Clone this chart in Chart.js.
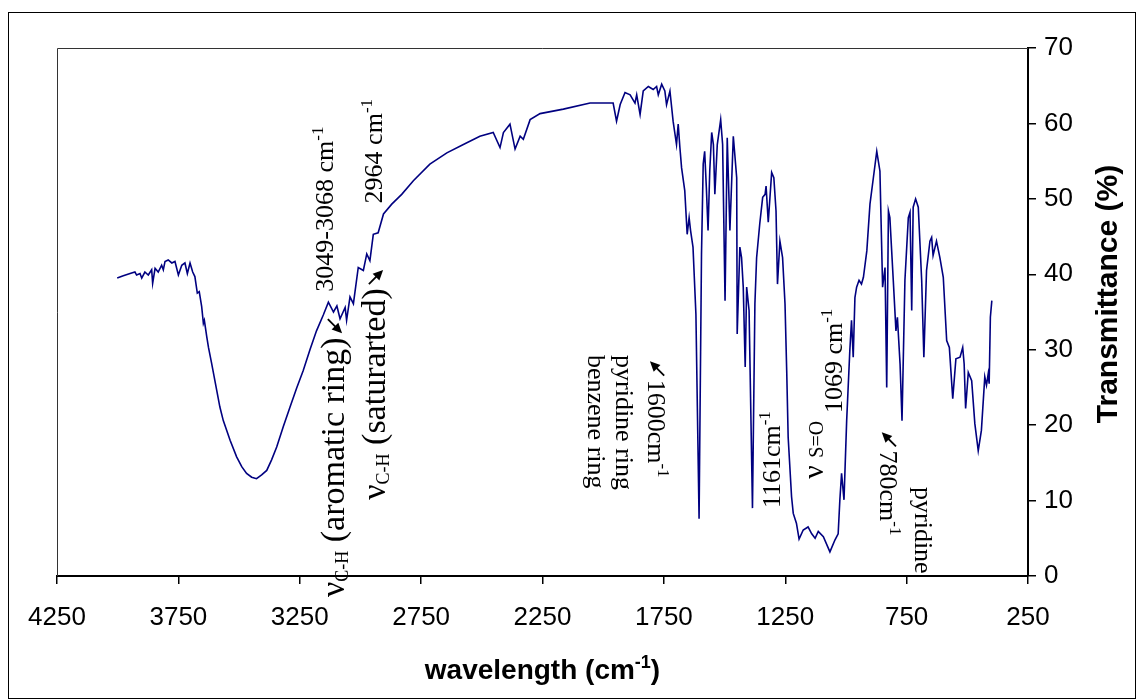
<!DOCTYPE html>
<html>
<head>
<meta charset="utf-8">
<script src="https://cdn.jsdelivr.net/npm/chart.js@4.4.0/dist/chart.umd.min.js"></script>
<style>
  html, body { margin: 0; padding: 0; background: #fff; }
  #wrap { width: 1143px; height: 700px; }
</style>
</head>
<body>
<div id="wrap"><canvas id="irChart" width="1143" height="700"></canvas></div>
<script>
// IR spectrum: wavenumber (cm-1) and transmittance (%)
var waveNumber = [
  4002, 3977, 3949, 3929, 3922, 3908, 3901, 3888, 3874, 3860, 3856, 3846, 3833, 3819,
  3812, 3805, 3792, 3777, 3764, 3750, 3736, 3723, 3713, 3702, 3691, 3682, 3672, 3664,
  3654, 3647, 3643, 3633, 3626, 3613, 3592, 3579, 3565, 3537, 3510, 3489, 3469, 3448,
  3428, 3407, 3386, 3366, 3345, 3318, 3290, 3263, 3236, 3208, 3181, 3153, 3132, 3111,
  3097, 3084, 3063, 3057, 3043, 3029, 3009, 2988, 2974, 2961, 2947, 2927, 2905, 2871,
  2830, 2782, 2714, 2644, 2576, 2508, 2453, 2425, 2411, 2384, 2363, 2342, 2329, 2301,
  2260, 2164, 2054, 1986, 1959, 1945, 1930, 1910, 1889, 1869, 1862, 1848, 1835, 1814,
  1794, 1780, 1773, 1759, 1746, 1739, 1725, 1712, 1698, 1691, 1684, 1677, 1664, 1654,
  1646, 1640, 1630, 1618, 1605, 1595, 1588, 1582, 1575, 1568, 1561, 1553, 1546, 1540,
  1530, 1516, 1508, 1498, 1489, 1478, 1464, 1450, 1448, 1437, 1430, 1423, 1415, 1409,
  1399, 1385, 1375, 1368, 1355, 1343, 1333, 1329, 1320, 1306, 1297, 1288, 1282, 1272,
  1261, 1251, 1244, 1238, 1224, 1217, 1204, 1193, 1176, 1156, 1141, 1127, 1114, 1093,
  1066, 1045, 1032, 1025, 1018, 1008, 997, 984, 977, 970, 963, 956, 946, 936,
  928, 914, 901, 887, 873, 860, 849, 839, 832, 825, 819, 805, 794, 788,
  777, 769, 757, 743, 736, 729, 723, 713, 702, 688, 679, 668, 654, 647,
  641, 627, 613, 599, 585, 574, 560, 547, 530, 519, 513, 507, 496, 482,
  469, 455, 442, 428, 421, 414, 410, 405, 399
];
var transmittance = [
  39.5, 39.8, 40.1, 40.3, 39.9, 40.1, 39.5, 40.3, 39.9, 40.6, 38.8, 40.8, 40.3, 41.2,
  40.6, 41.7, 41.9, 41.5, 41.7, 39.9, 41.2, 41.5, 40.1, 41.5, 40.3, 39.7, 37.5, 37.7,
  35.7, 33.5, 33.9, 31.7, 30.3, 28.2, 24.6, 22.4, 20.6, 18.0, 15.8, 14.5, 13.6, 13.1,
  12.9, 13.4, 14.0, 15.4, 17.1, 19.8, 22.4, 24.9, 27.2, 30.0, 32.5, 34.6, 36.3, 35.0,
  35.8, 34.1, 35.6, 33.9, 37.0, 36.1, 40.9, 40.5, 42.7, 41.8, 45.3, 45.5, 48.0, 49.3,
  50.6, 52.4, 54.6, 56.1, 57.2, 58.3, 58.8, 56.8, 58.8, 59.9, 56.6, 58.3, 57.9, 60.5,
  61.3, 61.9, 62.7, 62.7, 62.7, 60.3, 62.5, 64.1, 63.8, 62.7, 63.8, 61.2, 64.3, 64.9,
  64.5, 64.9, 63.8, 65.2, 64.3, 62.5, 64.3, 60.3, 57.2, 59.9, 56.8, 54.1, 51.1, 45.3,
  47.5, 45.8, 43.6, 34.7, 7.6, 42.7, 54.6, 56.3, 51.5, 45.8, 53.7, 58.8, 57.2, 50.6,
  57.2, 60.5, 57.2, 36.5, 58.1, 45.8, 58.3, 52.8, 32.1, 43.6, 42.2, 38.3, 27.7, 38.3,
  35.2, 9.0, 36.1, 42.2, 46.7, 50.2, 50.6, 51.7, 46.9, 53.5, 52.8, 48.4, 38.7, 44.4,
  42.2, 36.1, 27.2, 18.4, 10.5, 8.3, 7.0, 4.9, 6.1, 6.5, 5.6, 5.0, 5.9, 5.2,
  3.2, 4.8, 5.6, 10.1, 13.6, 10.1, 20.6, 29.9, 33.9, 29.0, 36.9, 38.3, 39.2, 38.7,
  39.6, 43.1, 49.3, 52.8, 56.3, 53.7, 38.3, 40.9, 25.0, 48.4, 47.5, 39.2, 32.5, 34.3,
  28.1, 20.6, 39.2, 47.5, 48.2, 35.2, 48.9, 50.0, 48.9, 39.2, 29.0, 40.5, 44.4, 44.9,
  42.5, 44.4, 42.2, 39.6, 31.2, 30.3, 23.5, 28.8, 29.0, 30.3, 28.1, 22.2, 27.0, 25.9,
  20.2, 16.6, 19.3, 26.4, 25.3, 26.8, 25.5, 34.3, 36.5
];

var xTickValues = [4250, 3750, 3250, 2750, 2250, 1750, 1250, 750, 250];
var yTickValues = [0, 10, 20, 30, 40, 50, 60, 70];

var xTitle = "wavelength (cm";
var yTitle = "Transmittance (%)";

// peak labels, anchored at (wavenumber, transmittance); rot -1 reads upward, +1 reads downward
// arrow parts give the on-screen direction of the arrow
var notes = [
  { w: 3113, t: 37.7, rot: -1, parts: [{ s: "3049-3068 cm", size: 26 }, { s: "-1", size: 17, rise: 10 }] },
  { w: 2911, t: 49.4, rot: -1, parts: [{ s: "2964 cm", size: 26 }, { s: "-1", size: 17, rise: 10 }] },
  { w: 3068, t: -2.8, rot: -1, parts: [{ s: "\u03bd", size: 34 }, { s: "C-H", size: 18, rise: -4 }, { s: " (aromatic ring)", size: 34 }, { arrow: [1, 1], size: 28 }] },
  { w: 2899, t: 10.1, rot: -1, parts: [{ s: "\u03bd", size: 34 }, { s: "C-H", size: 18, rise: -4 }, { s: " (saturarted)", size: 34 }, { arrow: [1, -1], size: 28 }] },
  { w: 1815, t: 29.0, rot: 1, parts: [{ arrow: [-1, -1], size: 28 }, { s: "1600cm", size: 26 }, { s: "-1", size: 17, rise: 10 }] },
  { w: 1947, t: 29.3, rot: 1, parts: [{ s: "pyridine ring", size: 26 }] },
  { w: 2063, t: 29.3, rot: 1, parts: [{ s: "benzene ring", size: 26 }] },
  { w: 1272, t: 9.0, rot: -1, parts: [{ s: "1161cm", size: 26 }, { s: "-1", size: 17, rise: 10 }] },
  { w: 1094, t: 12.9, rot: -1, parts: [{ s: "\u03bd ", size: 30 }, { s: "S=O", size: 20 }] },
  { w: 1016, t: 21.6, rot: -1, parts: [{ s: "1069 cm", size: 26 }, { s: "-1", size: 17, rise: 10 }] },
  { w: 860, t: 19.6, rot: 1, parts: [{ arrow: [-1, -1], size: 28 }, { s: "780cm", size: 26 }, { s: "-1", size: 17, rise: 10 }] },
  { w: 716, t: 11.8, rot: 1, parts: [{ s: "pyridine", size: 26 }] }
];

var serif = "'Liberation Serif', 'Times New Roman', 'DejaVu Serif', serif";
var sans = "'Liberation Sans', Arial, sans-serif";

// screen direction -> direction inside the rotated text frame
function toTextFrame(d, rot) {
  if (rot === -1) return [-d[1], d[0]];
  if (rot === 1) return [d[1], -d[0]];
  return d;
}

function drawArrow(ctx, cx, cy, dir, size) {
  var len = Math.sqrt(dir[0] * dir[0] + dir[1] * dir[1]);
  var ux = dir[0] / len, uy = dir[1] / len;
  var half = size * 0.36, head = size * 0.36, wing = size * 0.17;
  var tx = cx - ux * half, ty = cy - uy * half;
  var hx = cx + ux * half, hy = cy + uy * half;
  ctx.strokeStyle = "#000";
  ctx.lineWidth = 1.8;
  ctx.beginPath();
  ctx.moveTo(tx, ty);
  ctx.lineTo(hx - ux * head * 0.6, hy - uy * head * 0.6);
  ctx.stroke();
  ctx.fillStyle = "#000";
  ctx.beginPath();
  ctx.moveTo(hx, hy);
  ctx.lineTo(hx - ux * head - uy * wing, hy - uy * head + ux * wing);
  ctx.lineTo(hx - ux * head + uy * wing, hy - uy * head - ux * wing);
  ctx.closePath();
  ctx.fill();
}

function drawParts(ctx, x, y, rot, parts, family, weight) {
  ctx.save();
  ctx.translate(x, y);
  ctx.rotate(rot * Math.PI / 2);
  ctx.textAlign = "left";
  ctx.textBaseline = "alphabetic";
  var cx = 0;
  for (var i = 0; i < parts.length; i++) {
    var p = parts[i];
    if (p.arrow) {
      var aw = p.size * 0.8;
      drawArrow(ctx, cx + aw / 2, -p.size * 0.32, toTextFrame(p.arrow, rot), p.size);
      cx += aw;
      continue;
    }
    ctx.fillStyle = "#000";
    ctx.font = (weight || "normal") + " " + p.size + "px " + family;
    ctx.fillText(p.s, cx, -(p.rise || 0));
    cx += ctx.measureText(p.s).width;
  }
  ctx.restore();
}

function partsWidth(ctx, parts, family, weight) {
  var wsum = 0;
  for (var i = 0; i < parts.length; i++) {
    ctx.font = (weight || "normal") + " " + parts[i].size + "px " + family;
    wsum += ctx.measureText(parts[i].s).width;
  }
  return wsum;
}

var decorations = {
  id: "decorations",
  beforeDatasetsDraw: function(chart) {
    var ctx = chart.ctx, a = chart.chartArea;
    ctx.save();
    ctx.strokeStyle = "#333";
    ctx.lineWidth = 1;
    ctx.beginPath();
    ctx.moveTo(a.left + 0.5, a.bottom);
    ctx.lineTo(a.left + 0.5, a.top + 0.5);
    ctx.lineTo(a.right, a.top + 0.5);
    ctx.stroke();
    ctx.restore();
  },
  afterDraw: function(chart) {
    var ctx = chart.ctx, a = chart.chartArea;
    var xs = chart.scales.x, ys = chart.scales.y;

    // outer frame
    ctx.save();
    ctx.strokeStyle = "#000";
    ctx.lineWidth = 1;
    ctx.strokeRect(8.5, 12.5, 1127, 686);
    ctx.restore();

    // x title with superscript
    var xt = [{ s: xTitle, size: 28 }, { s: "-1", size: 18, rise: 11 }, { s: ")", size: 28 }];
    var tw = partsWidth(ctx, xt, sans, "bold");
    drawParts(ctx, (a.left + a.right) / 2 - tw / 2, 679, 0, xt, sans, "bold");

    // y title, reads upward
    ctx.save();
    ctx.translate(1109, 294);
    ctx.rotate(-Math.PI / 2);
    ctx.font = "bold 30px " + sans;
    ctx.textAlign = "center";
    ctx.textBaseline = "middle";
    ctx.fillStyle = "#000";
    ctx.fillText(yTitle, 0, 0);
    ctx.restore();

    // peak labels
    notes.forEach(function(n) {
      drawParts(ctx, xs.getPixelForValue(n.w), ys.getPixelForValue(n.t), n.rot, n.parts, serif);
    });
  }
};

var points = waveNumber.map(function(w, i) { return { x: w, y: transmittance[i] }; });

new Chart(document.getElementById("irChart"), {
  type: "line",
  data: {
    datasets: [{
      data: points,
      borderColor: "#000080",
      borderWidth: 1.6,
      pointRadius: 0,
      fill: false,
      tension: 0
    }]
  },
  options: {
    responsive: false,
    animation: false,
    devicePixelRatio: 1,
    events: [],
    layout: { padding: { left: 57, top: 48, right: 0, bottom: 0 } },
    plugins: { legend: { display: false }, tooltip: { enabled: false } },
    scales: {
      x: {
        type: "linear",
        reverse: true,
        min: 250,
        max: 4250,
        afterBuildTicks: function(scale) {
          scale.ticks = xTickValues.map(function(v) { return { value: v }; });
        },
        afterFit: function(scale) { scale.height = 124; },
        ticks: {
          font: { family: sans, size: 26 }, color: "#000", padding: 18, maxRotation: 0, autoSkip: false,
          callback: function(v) { return String(v); }
        },
        grid: { display: true, drawOnChartArea: false, drawTicks: true, tickLength: 8, color: "#000", lineWidth: 1.5 },
        border: { display: true, color: "#000", width: 2 }
      },
      y: {
        position: "right",
        min: 0,
        max: 70,
        afterBuildTicks: function(scale) {
          scale.ticks = yTickValues.map(function(v) { return { value: v }; });
        },
        afterFit: function(scale) { scale.width = 115; },
        ticks: { font: { family: sans, size: 26 }, color: "#000", padding: 8 },
        grid: { display: true, drawOnChartArea: false, drawTicks: true, tickLength: 8, color: "#000", lineWidth: 1.5 },
        border: { display: true, color: "#000", width: 2 }
      }
    }
  },
  plugins: [decorations]
});
</script>
</body>
</html>
